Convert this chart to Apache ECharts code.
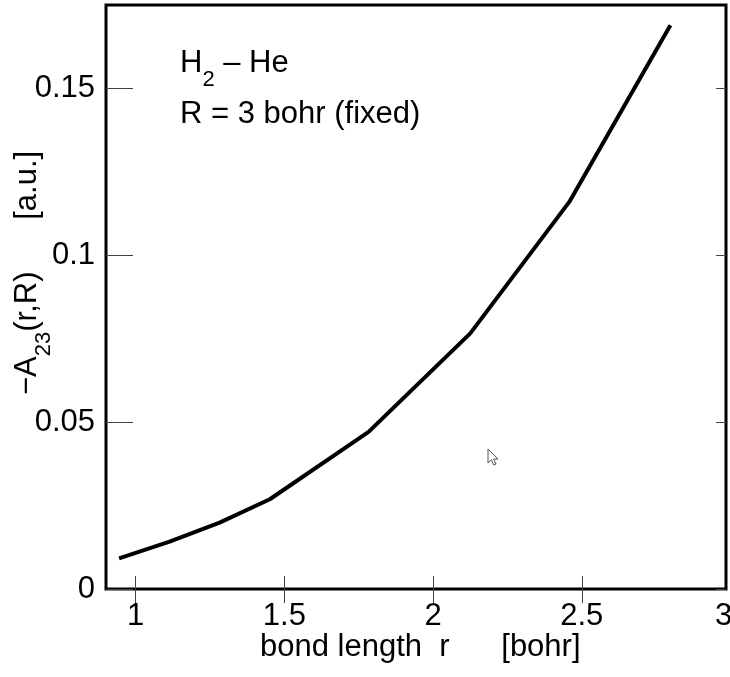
<!DOCTYPE html>
<html>
<head>
<meta charset="utf-8">
<script src="https://cdn.jsdelivr.net/npm/echarts@6/dist/echarts.min.js"></script>
<style>
  html, body { margin: 0; padding: 0; background: #fff; }
  #chart { width: 730px; height: 677px; }
</style>
</head>
<body>
<div id="chart"></div>
<script>
// Bond length r (bohr) and -A23(r, R) (a.u.) for H2-He at R = 3 bohr
const rValues   = [0.944, 1.114, 1.282, 1.451, 1.783, 2.125, 2.458, 2.798];
const a23Values = [0.0092, 0.0142, 0.0199, 0.0269, 0.0471, 0.0766, 0.1160, 0.1689];

// Axis ticks
const xTickValues = [1, 1.5, 2, 2.5, 3];
const yTickValues = [0, 0.05, 0.1, 0.15];

const X_MIN = 0.9, X_MAX = 2.985;
const Y_MIN = 0, Y_MAX = 0.175;

const FONT = '"Liberation Sans", Arial, Helvetica, sans-serif';
const FS = 31;
const TICK_COLOR = '#444';

const chart = echarts.init(document.getElementById('chart'), null, { renderer: 'canvas' });

const lineData = rValues.map((r, i) => [r, a23Values[i]]);

// Tick label positions; the last one sits on the right frame edge
const xLabelValues = xTickValues.map(v => Math.min(v, X_MAX));

const option = {
  animation: false,
  backgroundColor: '#fff',
  grid: {
    left: 106, right: 4, top: 5, bottom: 88,
    containLabel: false,
    outerBoundsMode: 'none',
    show: true, borderColor: '#000', borderWidth: 3, backgroundColor: 'transparent'
  },
  xAxis: [
    {
      type: 'value', position: 'bottom', min: X_MIN, max: X_MAX,
      axisLine: { show: false },
      splitLine: { show: false },
      axisTick: {
        inside: true, length: 13,
        customValues: xTickValues.filter(v => v <= X_MAX),
        lineStyle: { color: TICK_COLOR, width: 1 }
      },
      axisLabel: {
        customValues: xLabelValues,
        margin: 12,
        color: '#000', fontSize: FS, fontFamily: FONT,
        formatter: (v) => v >= X_MAX
          ? '{edge|' + xTickValues[xTickValues.length - 1] + '}'
          : String(v),
        rich: { edge: { color: '#000', fontSize: FS, fontFamily: FONT, padding: [0, 5, 0, 0] } }
      }
    },
    {
      type: 'value', position: 'top', min: X_MIN, max: X_MAX,
      axisLine: { show: false },
      splitLine: { show: false },
      axisLabel: { show: false },
      axisTick: {
        inside: true, length: 14,
        customValues: xTickValues.filter(v => v <= X_MAX),
        lineStyle: { color: TICK_COLOR, width: 1 }
      }
    }
  ],
  yAxis: [
    {
      type: 'value', position: 'left', min: Y_MIN, max: Y_MAX,
      axisLine: { show: false },
      splitLine: { show: false },
      axisTick: {
        inside: true, length: 27,
        customValues: yTickValues,
        lineStyle: { color: TICK_COLOR, width: 1 }
      },
      axisLabel: {
        customValues: yTickValues,
        margin: 11,
        color: '#000', fontSize: FS, fontFamily: FONT
      }
    },
    {
      type: 'value', position: 'right', min: Y_MIN, max: Y_MAX,
      axisLine: { show: false },
      splitLine: { show: false },
      axisLabel: { show: false },
      axisTick: {
        inside: true, length: 10,
        customValues: yTickValues,
        lineStyle: { color: TICK_COLOR, width: 1 }
      }
    }
  ],
  series: [
    {
      type: 'line',
      xAxisIndex: 0, yAxisIndex: 0,
      data: lineData,
      showSymbol: false,
      symbol: 'none',
      lineStyle: { color: '#000', width: 4 },
      silent: true
    }
  ],
  graphic: [
    // System label
    {
      type: 'text', left: 180, top: 48,
      style: {
        text: '{m|H}{s|2}{m| – He}',
        rich: {
          m: { fontSize: FS, lineHeight: 31, fontFamily: FONT, fill: '#000', verticalAlign: 'top' },
          s: { fontSize: 22, lineHeight: 22, fontFamily: FONT, fill: '#000', verticalAlign: 'top', padding: [21, 0, 0, 0] }
        }
      }
    },
    {
      type: 'text', left: 180, top: 99,
      style: { text: 'R = 3 bohr (fixed)', fontSize: FS, lineHeight: 31, fontFamily: FONT, fill: '#000' }
    },
    // x axis title
    {
      type: 'text', left: 260, top: 632,
      style: { text: 'bond length  r      [bohr]', fontSize: FS, lineHeight: 31, fontFamily: FONT, fill: '#000' }
    },
    // y axis title, read bottom to top
    {
      type: 'text', x: 27, y: 395, rotation: Math.PI / 2,
      style: {
        text: '{m|−A}{s|23}{m|(r,R)      [a.u.]}',
        align: 'left', verticalAlign: 'middle',
        rich: {
          m: { fontSize: FS, lineHeight: 31, fontFamily: FONT, fill: '#000', verticalAlign: 'top' },
          s: { fontSize: 22, lineHeight: 22, fontFamily: FONT, fill: '#000', verticalAlign: 'top', padding: [21, 0, 0, 0] }
        }
      }
    },
    // mouse pointer
    {
      type: 'polygon', x: 488, y: 449,
      shape: { points: [[0, 0], [0, 14], [3.3, 10.8], [5.8, 16], [8, 15], [5.6, 10], [10, 10]] },
      style: { fill: '#fff', stroke: '#555', lineWidth: 1 }
    }
  ]
};

chart.setOption(option);
</script>
</body>
</html>
